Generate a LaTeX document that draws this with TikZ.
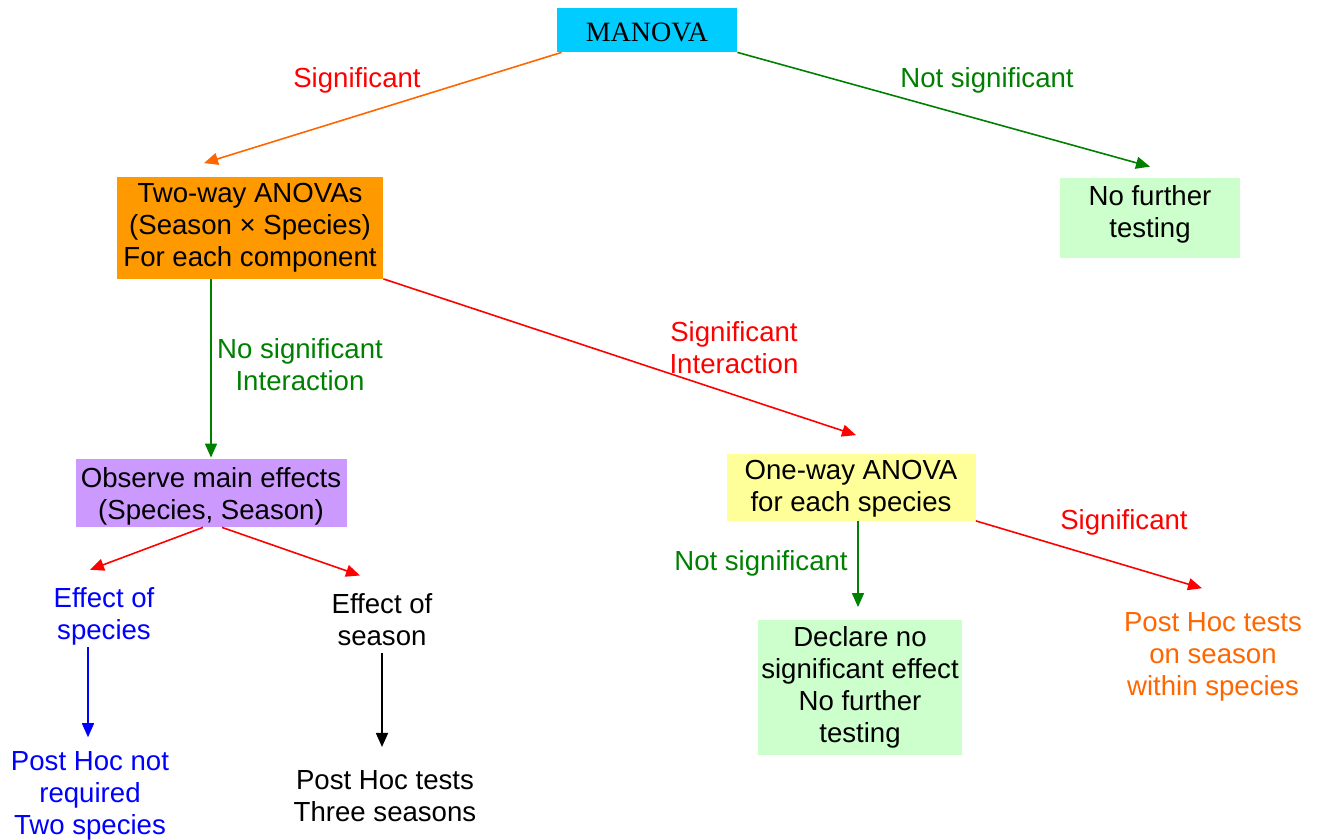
\documentclass[tikz,border=0pt]{standalone}
\usepackage{fontspec}
\setmainfont{Liberation Sans}
\newfontfamily\timesfont{Liberation Serif}
\usetikzlibrary{arrows.meta,calc,positioning}

\definecolor{boxcyan}{HTML}{00CCFF}
\definecolor{boxorange}{HTML}{FF9900}
\definecolor{boxgreen}{HTML}{CCFFCC}
\definecolor{boxlilac}{HTML}{CC99FF}
\definecolor{boxyellow}{HTML}{FFFF99}
\definecolor{sigred}{HTML}{FF0000}
\definecolor{nsgreen}{HTML}{008000}
\definecolor{spblue}{HTML}{0000FF}
\definecolor{hocorange}{HTML}{FF6600}

\begin{document}
\begin{tikzpicture}[
          x=0.5pt, y=-0.5pt,
          every node/.style={inner sep=0pt, align=center, font=\fontsize{13.8}{16}\selectfont},
          box/.style={fill=#1},
          link/.style={-{Triangle[length=7pt,width=6pt]}, line width=0.8pt}
        ]
        \useasboundingbox (0,0) rectangle (1318,840);

        % Boxes
        \node[box=boxcyan, minimum width=90pt, minimum height=22pt, text height=11.8pt, text depth=0pt, font=\timesfont\fontsize{14}{16}\selectfont] (manova) at (647,30) {MANOVA};
        \node[box=boxorange, minimum width=133pt, minimum height=50.5pt] (twoway) at (250,228) {Two-way ANOVAs\\(Season × Species)\\For each component};
        \node[box=boxgreen, minimum width=90pt, minimum height=40pt, text depth=6.4pt] (nofurther) at (1150,218) {No further\\testing};
        \node[box=boxlilac, minimum width=135.5pt, minimum height=34pt, text depth=0pt] (observe) at (211,493) {Observe main effects\\(Species, Season)};
        \node[box=boxyellow, minimum width=124.5pt, minimum height=33.5pt, text depth=1.4pt] (oneway) at (851,487) {One-way ANOVA\\for each species};
        \node[box=boxgreen, minimum width=102pt, minimum height=67.5pt] (declare) at (860,687) {Declare no\\significant effect\\No further\\testing};

        % Plain texts
        \node[text=spblue] (species) at (104,616) {Effect of\\species};
        \node (season) at (382,620) {Effect of\\season};
        \node[text=spblue] (hocspecies) at (90,796) {Post Hoc not\\required\\Two species};
        \node (hocseason) at (385,796) {Post Hoc tests\\Three seasons};
        \node[text=hocorange] (hocwithin) at (1213,657) {Post Hoc tests\\on season\\within species};

        % Connectors
        \draw[link, hocorange] ($(manova.south west)+(5,0)$) -- ($(twoway.north)+(-46,-14)$);
        \draw[link, nsgreen] (manova.south east) -- ($(nofurther.north)+(0,-11)$);
        \draw[link, nsgreen] ($(twoway.south)+(-39,0)$) -- ($(observe.north)+(0,-1)$);
        \draw[link, sigred] (twoway.south east) -- ($(oneway.north)+(5,-18)$);
        \draw[link, sigred] ($(observe.south)+(-8,0)$) -- ($(species.north)+(-14,-17)$);
        \draw[link, sigred] ($(observe.south)+(11,0)$) -- ($(season.north)+(-22,-18)$);
        \draw[link, spblue] ($(species.south)+(-16,2)$) -- ($(hocspecies.north)+(-2,-14)$);
        \draw[link, black] ($(season.south)+(0,6)$) -- ($(hocseason.north)+(-3,-23)$);
        \draw[link, nsgreen] ($(oneway.south)+(7,0)$) -- ($(declare.north)+(-2,-12)$);
        \draw[link, sigred] (oneway.south east) -- ($(hocwithin.north)+(-11,-24)$);

        % Connector labels
        \node[text=sigred] (lsig) at (357,80) {Significant};
        \node[text=nsgreen] (lnotsig) at (987,80) {Not significant};
        \node[text=nsgreen] (lnoint) at (300,365) {No significant\\Interaction};
        \node[text=sigred] (lint) at (734,348) {Significant\\Interaction};
        \node[text=nsgreen] (lnotsigone) at (761,563) {Not significant};
        \node[text=sigred] (lsigone) at (1124,522) {Significant};

      \end{tikzpicture}
\end{document}
